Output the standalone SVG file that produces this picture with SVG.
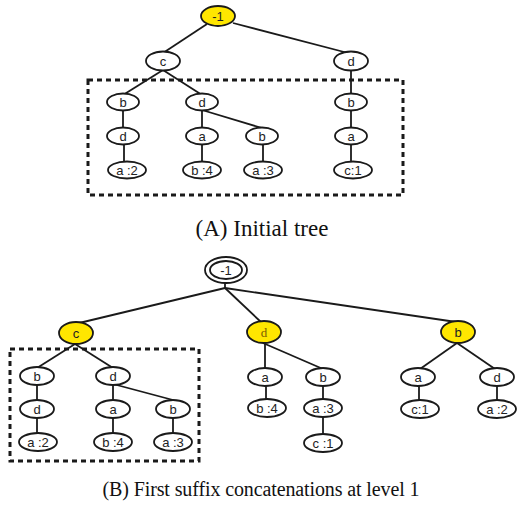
<svg xmlns="http://www.w3.org/2000/svg" width="519" height="508" viewBox="0 0 519 508">
<style>
.e{fill:none;stroke:#1a1a1a;stroke-width:1.8}
.n ellipse{fill:#fff;stroke:#1a1a1a;stroke-width:1.8}
.n.y ellipse{fill:#ffe600}
.n text{font-family:"Liberation Sans",Arial,sans-serif;font-size:13px;fill:#222;text-anchor:middle;dominant-baseline:central}
.box{fill:none;stroke:#1a1a1a;stroke-width:3;stroke-dasharray:5 4}
.cap{font-family:"Liberation Serif","Times New Roman",serif;font-size:20px;fill:#111;text-anchor:middle}
</style>
<rect width="519" height="508" fill="#fff"/>

<!-- dashed boxes -->
<rect class="box" x="88" y="80" width="315" height="115"/>
<rect class="box" x="10" y="349" width="189" height="112"/>

<g id="connectors">
  <!-- tree A -->
  <line class="e" x1="207" y1="24" x2="163" y2="53"/>
  <line class="e" x1="233" y1="23" x2="348" y2="53"/>
  <line class="e" x1="163" y1="70" x2="123" y2="95"/>
  <line class="e" x1="163" y1="70" x2="202" y2="95"/>
  <line class="e" x1="351" y1="70" x2="351" y2="95"/>
  <line class="e" x1="123" y1="110" x2="123" y2="128"/>
  <line class="e" x1="202" y1="110" x2="202" y2="128"/>
  <line class="e" x1="202" y1="110" x2="262" y2="128"/>
  <line class="e" x1="351" y1="110" x2="351" y2="128"/>
  <line class="e" x1="124" y1="144" x2="124" y2="162"/>
  <line class="e" x1="202" y1="144" x2="202" y2="162"/>
  <line class="e" x1="263" y1="144" x2="263" y2="162"/>
  <line class="e" x1="351" y1="144" x2="351" y2="162"/>
  <!-- tree B -->
  <line class="e" x1="225" y1="282" x2="225" y2="288"/>
  <line class="e" x1="225" y1="288" x2="75" y2="324"/>
  <line class="e" x1="225" y1="288" x2="262" y2="323"/>
  <line class="e" x1="225" y1="288" x2="463" y2="323"/>
  <line class="e" x1="75" y1="344" x2="37" y2="368"/>
  <line class="e" x1="75" y1="344" x2="113" y2="368"/>
  <line class="e" x1="37" y1="384" x2="37" y2="401"/>
  <line class="e" x1="113" y1="384" x2="113" y2="401"/>
  <line class="e" x1="113" y1="384" x2="173" y2="400"/>
  <line class="e" x1="37" y1="417" x2="37" y2="434"/>
  <line class="e" x1="113" y1="417" x2="113" y2="434"/>
  <line class="e" x1="173" y1="417" x2="173" y2="434"/>
  <line class="e" x1="265" y1="343" x2="265" y2="369"/>
  <line class="e" x1="263" y1="343" x2="323" y2="369"/>
  <line class="e" x1="266" y1="385" x2="266" y2="400"/>
  <line class="e" x1="323" y1="385" x2="323" y2="400"/>
  <line class="e" x1="323" y1="416" x2="323" y2="435"/>
  <line class="e" x1="457" y1="343" x2="420" y2="369"/>
  <line class="e" x1="457" y1="343" x2="495" y2="369"/>
  <line class="e" x1="419" y1="385" x2="419" y2="401"/>
  <line class="e" x1="497" y1="385" x2="497" y2="401"/>
</g>

<!-- Tree A nodes -->
<g id="a-root" class="n y"><ellipse cx="218" cy="16" rx="17" ry="10"/><text x="218" y="16">-1</text></g>
<g id="a-c" class="n"><ellipse cx="163" cy="61" rx="17" ry="9.5"/><text x="163" y="61">c</text></g>
<g id="a-d" class="n"><ellipse cx="351" cy="61" rx="17" ry="9.5"/><text x="351" y="61">d</text></g>
<g id="a-cb" class="n"><ellipse cx="123" cy="102" rx="16" ry="8.5"/><text x="123" y="102">b</text></g>
<g id="a-cd" class="n"><ellipse cx="202" cy="102" rx="16" ry="8.5"/><text x="202" y="102">d</text></g>
<g id="a-db" class="n"><ellipse cx="351" cy="102" rx="16" ry="8.5"/><text x="351" y="102">b</text></g>
<g id="a-cbd" class="n"><ellipse cx="123" cy="136" rx="16" ry="8.5"/><text x="123" y="136">d</text></g>
<g id="a-cda" class="n"><ellipse cx="202" cy="136" rx="16" ry="8.5"/><text x="202" y="136">a</text></g>
<g id="a-cdb" class="n"><ellipse cx="262" cy="136" rx="16" ry="8.5"/><text x="262" y="136">b</text></g>
<g id="a-dba" class="n"><ellipse cx="351" cy="136" rx="16" ry="8.5"/><text x="351" y="136">a</text></g>
<g id="a-cbda" class="n"><ellipse cx="127" cy="170" rx="19" ry="8.5"/><text x="127" y="170">a :2</text></g>
<g id="a-cdab" class="n"><ellipse cx="202" cy="170" rx="19" ry="8.5"/><text x="202" y="170">b :4</text></g>
<g id="a-cdba" class="n"><ellipse cx="263" cy="170" rx="19" ry="8.5"/><text x="263" y="170">a :3</text></g>
<g id="a-dbac" class="n"><ellipse cx="353" cy="170" rx="19" ry="8.5"/><text x="353" y="170">c:1</text></g>

<text class="cap" x="262" y="236" style="font-size:23px">(A) Initial tree</text>

<!-- Tree B nodes -->
<g id="b-root" class="n"><ellipse cx="226" cy="270" rx="21" ry="13"/><ellipse cx="226" cy="270" rx="16" ry="9"/><text x="226" y="270">-1</text></g>
<g id="b-c" class="n y"><ellipse cx="76" cy="333" rx="17" ry="11"/><text x="76" y="333">c</text></g>
<g id="b-d" class="n y"><ellipse cx="264" cy="332" rx="17" ry="11"/><text x="264" y="332" style="font-family:'Liberation Serif','Times New Roman',serif;fill:#7a5c00">d</text></g>
<g id="b-b" class="n y"><ellipse cx="458" cy="332" rx="17" ry="11"/><text x="458" y="332">b</text></g>
<g id="b-cb" class="n"><ellipse cx="37" cy="376" rx="17" ry="9"/><text x="37" y="376">b</text></g>
<g id="b-cd" class="n"><ellipse cx="113" cy="376" rx="17" ry="9"/><text x="113" y="376">d</text></g>
<g id="b-cbd" class="n"><ellipse cx="37" cy="409" rx="17" ry="9"/><text x="37" y="409">d</text></g>
<g id="b-cda" class="n"><ellipse cx="113" cy="409" rx="17" ry="9"/><text x="113" y="409">a</text></g>
<g id="b-cdb" class="n"><ellipse cx="173" cy="409" rx="17" ry="9"/><text x="173" y="409">b</text></g>
<g id="b-cbda" class="n"><ellipse cx="38" cy="442" rx="19" ry="9"/><text x="38" y="442">a :2</text></g>
<g id="b-cdab" class="n"><ellipse cx="113" cy="442" rx="19" ry="9"/><text x="113" y="442">b :4</text></g>
<g id="b-cdba" class="n"><ellipse cx="173" cy="442" rx="19" ry="9"/><text x="173" y="442">a :3</text></g>
<g id="b-da" class="n"><ellipse cx="265" cy="377" rx="17" ry="9"/><text x="265" y="377">a</text></g>
<g id="b-db" class="n"><ellipse cx="323" cy="377" rx="17" ry="9"/><text x="323" y="377">b</text></g>
<g id="b-dab" class="n"><ellipse cx="267" cy="408" rx="19" ry="9"/><text x="267" y="408">b :4</text></g>
<g id="b-dba" class="n"><ellipse cx="323" cy="408" rx="19" ry="9"/><text x="323" y="408">a :3</text></g>
<g id="b-dbac" class="n"><ellipse cx="323" cy="443" rx="19" ry="9"/><text x="323" y="443">c :1</text></g>
<g id="b-ba" class="n"><ellipse cx="418" cy="377" rx="17" ry="9"/><text x="418" y="377">a</text></g>
<g id="b-bd" class="n"><ellipse cx="497" cy="377" rx="17" ry="9"/><text x="497" y="377">d</text></g>
<g id="b-bac" class="n"><ellipse cx="420" cy="409" rx="19" ry="9"/><text x="420" y="409">c:1</text></g>
<g id="b-bda" class="n"><ellipse cx="497" cy="409" rx="19" ry="9"/><text x="497" y="409">a :2</text></g>

<text class="cap" x="261" y="496" textLength="317" lengthAdjust="spacing">(B) First suffix concatenations at level 1</text>
</svg>
